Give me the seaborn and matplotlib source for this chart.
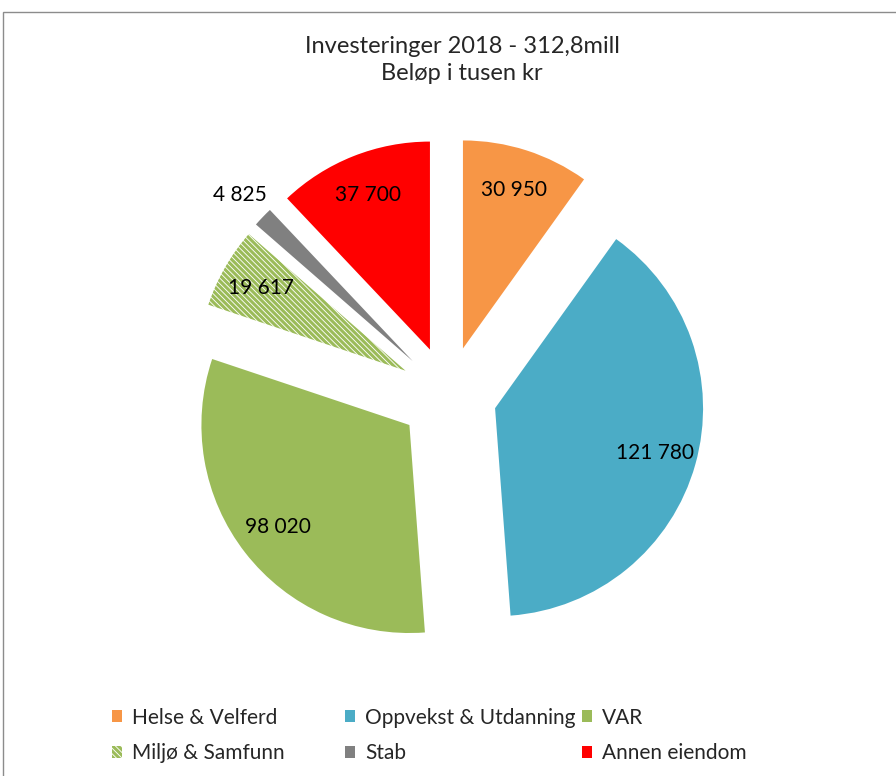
import numpy as np
import matplotlib
matplotlib.use("Agg")
import matplotlib.pyplot as plt
import seaborn as sns
from matplotlib.patches import Patch, Rectangle

# data (beløp i tusen kr)
sectors = ["Helse & Velferd", "Oppvekst & Utdanning", "VAR",
           "Miljø & Samfunn", "Stab", "Annen eiendom"]
amounts = [30950, 121780, 98020, 19617, 4825, 37700]
colors = ["#F79646", "#4BACC6", "#9BBB59", "#9BBB59", "#808080", "#FF0000"]
title_text = "Investeringer 2018 - 312,8mill\nBeløp i tusen kr"

sns.set_theme(style="white")
plt.rcParams["font.family"] = ["Lato", "DejaVu Sans"]
plt.rcParams["hatch.linewidth"] = 2.2

W, H = 896, 776
fig = plt.figure(figsize=(W / 100, H / 100), dpi=100)

# pie centre at (448, 395) px, radius 208 px
cx, cy, r = 448, 395, 208
ax = fig.add_axes([0, 0, 1, 1])

labels = [f"{v:,}".replace(",", " ") for v in amounts]
wedges, texts = ax.pie(
    amounts, colors=colors, labels=labels, startangle=90, counterclock=False,
    explode=[0.235] * len(amounts), labeldistance=0.8, radius=1,
    wedgeprops=dict(linewidth=0),
    textprops=dict(ha="center", va="center", fontsize=15, color="black"),
)
ax.set_aspect("auto")
ax.set_xlim(-cx / r, (W - cx) / r)
ax.set_ylim(-(H - cy) / r, cy / r)
ax.axis("off")

# striped slice for Miljø & Samfunn
hatch = "\\" * 6
wedges[3].set_facecolor("white")
wedges[3].set_edgecolor("#9BBB59")
wedges[3].set_hatch(hatch)
wedges[3].set_linewidth(0)

# small slice: label outside
w = wedges[4]
th = np.deg2rad((w.theta1 + w.theta2) / 2)
wx, wy = w.center
texts[4].set_position((wx + 1.15 * w.r * np.cos(th), wy + 1.15 * w.r * np.sin(th)))

fig.text(462 / W, 1 - 60 / H, title_text, ha="center", va="center",
         fontsize=17, linespacing=1.4)

# legend, laid out row by row in three fixed columns
handles = []
for i, name in enumerate(sectors):
    if i == 3:
        h = Patch(facecolor="white", edgecolor="#9BBB59", hatch=hatch, linewidth=0, label=name)
    else:
        h = Patch(facecolor=colors[i], linewidth=0, label=name)
    handles.append(h)

col_x = [112, 345, 582]
for c in range(3):
    leg = fig.legend(handles=[handles[c], handles[c + 3]], loc="center left",
                     bbox_to_anchor=(col_x[c] / W, 1 - 735.5 / H), frameon=False,
                     fontsize=15, handlelength=0.5, handleheight=0.5,
                     handletextpad=0.45, labelspacing=0.75, borderpad=0,
                     borderaxespad=0)

# chart border
fig.patches.append(Rectangle((3 / W, -0.1), 1.2, 1 - 12 / H + 0.1,
                             transform=fig.transFigure, fill=False,
                             edgecolor="#8c8c8c", linewidth=1))

fig.savefig("out.png", dpi=100)
